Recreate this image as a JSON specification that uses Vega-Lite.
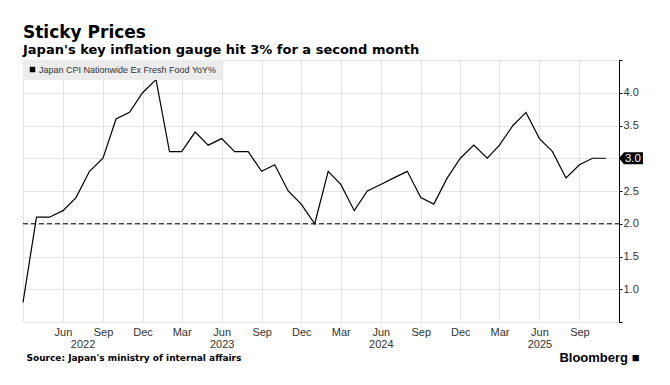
{
  "$schema": "https://vega.github.io/schema/vega-lite/v6.json",
  "width": 596,
  "height": 262,
  "autosize": {"type": "none"},
  "padding": {"left": 23, "top": 60, "right": 51, "bottom": 63},
  "background": "white",
  "title": {
    "text": "Sticky Prices",
    "subtitle": "Japan's key inflation gauge hit 3% for a second month",
    "anchor": "start",
    "frame": "group",
    "font": "DejaVu Sans",
    "fontSize": 17,
    "fontWeight": "bold",
    "color": "black",
    "subtitleFont": "DejaVu Sans",
    "subtitleFontSize": 13,
    "subtitleFontWeight": "bold",
    "subtitleColor": "black",
    "subtitlePadding": 2,
    "offset": -4
  },
  "datasets": {
    "cpi": [
      {"date": "2022-03-01", "value": 0.8},
      {"date": "2022-04-01", "value": 2.1},
      {"date": "2022-05-01", "value": 2.1},
      {"date": "2022-06-01", "value": 2.2},
      {"date": "2022-07-01", "value": 2.4},
      {"date": "2022-08-01", "value": 2.8},
      {"date": "2022-09-01", "value": 3.0},
      {"date": "2022-10-01", "value": 3.6},
      {"date": "2022-11-01", "value": 3.7},
      {"date": "2022-12-01", "value": 4.0},
      {"date": "2023-01-01", "value": 4.2},
      {"date": "2023-02-01", "value": 3.1},
      {"date": "2023-03-01", "value": 3.1},
      {"date": "2023-04-01", "value": 3.4},
      {"date": "2023-05-01", "value": 3.2},
      {"date": "2023-06-01", "value": 3.3},
      {"date": "2023-07-01", "value": 3.1},
      {"date": "2023-08-01", "value": 3.1},
      {"date": "2023-09-01", "value": 2.8},
      {"date": "2023-10-01", "value": 2.9},
      {"date": "2023-11-01", "value": 2.5},
      {"date": "2023-12-01", "value": 2.3},
      {"date": "2024-01-01", "value": 2.0},
      {"date": "2024-02-01", "value": 2.8},
      {"date": "2024-03-01", "value": 2.6},
      {"date": "2024-04-01", "value": 2.2},
      {"date": "2024-05-01", "value": 2.5},
      {"date": "2024-06-01", "value": 2.6},
      {"date": "2024-07-01", "value": 2.7},
      {"date": "2024-08-01", "value": 2.8},
      {"date": "2024-09-01", "value": 2.4},
      {"date": "2024-10-01", "value": 2.3},
      {"date": "2024-11-01", "value": 2.7},
      {"date": "2024-12-01", "value": 3.0},
      {"date": "2025-01-01", "value": 3.2},
      {"date": "2025-02-01", "value": 3.0},
      {"date": "2025-03-01", "value": 3.2},
      {"date": "2025-04-01", "value": 3.5},
      {"date": "2025-05-01", "value": 3.7},
      {"date": "2025-06-01", "value": 3.3},
      {"date": "2025-07-01", "value": 3.1},
      {"date": "2025-08-01", "value": 2.7},
      {"date": "2025-09-01", "value": 2.9},
      {"date": "2025-10-01", "value": 3.0},
      {"date": "2025-11-01", "value": 3.0}
    ],
    "last": [
      {"date": "2025-11-01", "value": 3.0, "label": "3.0"}
    ],
    "threshold": [
      {"value": 2.0}
    ]
  },
  "config": {
    "view": {"stroke": null},
    "font": "Liberation Sans",
    "axis": {
      "labelFont": "Liberation Sans",
      "labelFontSize": 11,
      "labelColor": "#333333",
      "labelOverlap": false,
      "labelFlush": false,
      "titleFont": "Liberation Sans",
      "gridColor": "#c8c8c8",
      "gridDash": [1, 1],
      "gridWidth": 1
    }
  },
  "encoding": {
    "y": {
      "field": "value",
      "type": "quantitative",
      "scale": {"domain": [0.5, 4.5], "nice": false, "zero": false},
      "axis": {
        "orient": "right",
        "title": null,
        "values": [0.5, 1.0, 1.5, 2.0, 2.5, 3.0, 3.5, 4.0, 4.5],
        "labelExpr": "datum.value >= 1 && datum.value <= 4 && datum.value != 3 ? format(datum.value, '.1f') : ''",
        "grid": true,
        "domain": true,
        "domainColor": "black",
        "ticks": true,
        "tickColor": "black",
        "tickSize": 3,
        "labelPadding": 1,
        "labelFlush": false,
        "labelOverlap": false
      }
    }
  },
  "layer": [
    {
      "data": {"name": "cpi"},
      "mark": {"type": "line", "color": "black", "strokeWidth": 1.2},
      "encoding": {
        "x": {
          "field": "date",
          "type": "temporal",
          "scale": {
            "type": "utc",
            "domain": [
              {"year": 2022, "month": 3, "date": 1, "utc": true},
              {"year": 2025, "month": 12, "date": 1, "utc": true}
            ],
            "nice": false
          },
          "axis": {
            "orient": "bottom",
            "title": null,
            "values": [
              {"year": 2022, "month": 3, "date": 1, "utc": true},
              {"year": 2022, "month": 6, "date": 1, "utc": true},
              {"year": 2022, "month": 9, "date": 1, "utc": true},
              {"year": 2022, "month": 12, "date": 1, "utc": true},
              {"year": 2023, "month": 3, "date": 1, "utc": true},
              {"year": 2023, "month": 6, "date": 1, "utc": true},
              {"year": 2023, "month": 9, "date": 1, "utc": true},
              {"year": 2023, "month": 12, "date": 1, "utc": true},
              {"year": 2024, "month": 3, "date": 1, "utc": true},
              {"year": 2024, "month": 6, "date": 1, "utc": true},
              {"year": 2024, "month": 9, "date": 1, "utc": true},
              {"year": 2024, "month": 12, "date": 1, "utc": true},
              {"year": 2025, "month": 3, "date": 1, "utc": true},
              {"year": 2025, "month": 6, "date": 1, "utc": true},
              {"year": 2025, "month": 9, "date": 1, "utc": true}
            ],
            "labelExpr": "utcFormat(datum.value, '%Y-%m') == '2022-03' ? '' : utcFormat(datum.value, '%b')",
            "grid": true,
            "domain": false,
            "ticks": false,
            "labelPadding": 4,
            "labelFlush": false,
            "labelOverlap": false
          }
        },
        "color": {
          "datum": "Japan CPI Nationwide Ex Fresh Food YoY%",
          "type": "nominal",
          "scale": {"range": ["black"]},
          "legend": {
            "title": null,
            "orient": "top-left",
            "offset": 0,
            "padding": 5,
            "fillColor": "#ececec",
            "symbolType": "square",
            "symbolSize": 30,
            "symbolFillColor": "black",
            "symbolStrokeColor": "black",
            "symbolStrokeWidth": 0,
            "labelFont": "Liberation Sans",
            "labelFontSize": 9,
            "labelColor": "#333333",
            "labelOffset": 2,
            "labelLimit": 400,
            "encode": {
              "symbols": {"update": {"fill": {"value": "black"}, "stroke": {"value": "black"}, "strokeWidth": {"value": 0}}}
            }
          }
        }
      }
    },
    {
      "data": {"name": "threshold"},
      "mark": {"type": "rule", "color": "black", "strokeWidth": 1, "strokeDash": [5, 3]},
      "encoding": {
        "x": {
          "datum": {"year": 2022, "month": 3, "date": 1, "utc": true},
          "type": "temporal",
          "axis": {
            "orient": "bottom",
            "title": "Source: Japan's ministry of internal affairs",
            "titleAnchor": "start",
            "titleAlign": "left",
            "titleFont": "DejaVu Sans",
            "titleFontSize": 9,
            "titleFontWeight": "bold",
            "titleColor": "black",
            "titlePadding": 4,
            "titleX": 3,
            "values": [
              {"year": 2022, "month": 7, "date": 16, "utc": true},
              {"year": 2023, "month": 6, "date": 1, "utc": true},
              {"year": 2024, "month": 6, "date": 1, "utc": true},
              {"year": 2025, "month": 6, "date": 1, "utc": true}
            ],
            "labelExpr": "utcFormat(datum.value, '%Y')",
            "grid": false,
            "domain": false,
            "ticks": false,
            "labelPadding": 16,
            "labelFlush": false,
            "labelOverlap": false
          }
        },
        "x2": {"datum": {"year": 2025, "month": 12, "date": 1, "utc": true}}
      }
    },
    {
      "data": {"name": "last"},
      "mark": {
        "type": "point",
        "shape": "M-1,0L-0.58,-0.5L1,-0.5L1,0.5L-0.58,0.5Z",
        "size": 576,
        "filled": true,
        "color": "black",
        "opacity": 1,
        "xOffset": 25
      },
      "encoding": {
        "x": {
          "field": "date",
          "type": "temporal",
          "axis": {
            "orient": "bottom",
            "title": "Bloomberg ■",
            "titleAlign": "right",
            "titleX": 616,
            "titleFont": "Liberation Sans",
            "titleFontSize": 13,
            "titleFontWeight": "bold",
            "titleColor": "black",
            "titlePadding": 29,
            "labels": false,
            "grid": false,
            "domain": false,
            "ticks": false
          }
        }
      }
    },
    {
      "data": {"name": "last"},
      "mark": {
        "type": "text",
        "color": "white",
        "font": "Liberation Sans",
        "fontSize": 11.5,
        "align": "center",
        "baseline": "middle",
        "xOffset": 27,
        "yOffset": 0.5
      },
      "encoding": {
        "x": {"field": "date", "type": "temporal", "axis": null},
        "text": {"field": "label"}
      }
    }
  ],
  "resolve": {"axis": {"x": "independent"}}
}
